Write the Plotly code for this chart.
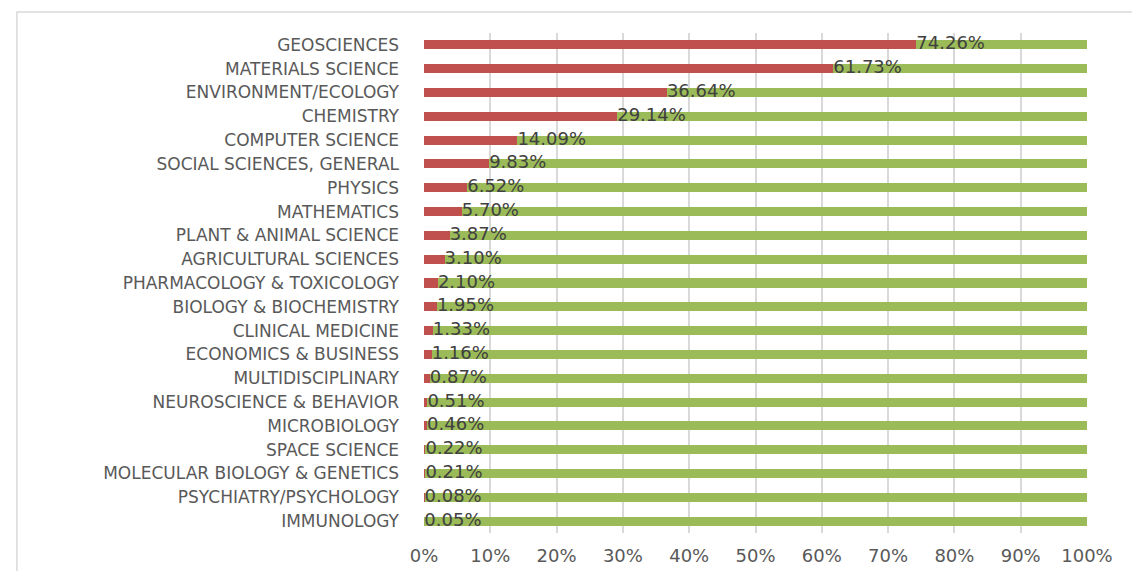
import plotly.graph_objects as go

categories = [
    "GEOSCIENCES", "MATERIALS SCIENCE", "ENVIRONMENT/ECOLOGY", "CHEMISTRY",
    "COMPUTER SCIENCE", "SOCIAL SCIENCES, GENERAL", "PHYSICS", "MATHEMATICS",
    "PLANT & ANIMAL SCIENCE", "AGRICULTURAL SCIENCES", "PHARMACOLOGY & TOXICOLOGY",
    "BIOLOGY & BIOCHEMISTRY", "CLINICAL MEDICINE", "ECONOMICS & BUSINESS",
    "MULTIDISCIPLINARY", "NEUROSCIENCE & BEHAVIOR", "MICROBIOLOGY", "SPACE SCIENCE",
    "MOLECULAR BIOLOGY & GENETICS", "PSYCHIATRY/PSYCHOLOGY", "IMMUNOLOGY",
]
share = [
    74.26, 61.73, 36.64, 29.14, 14.09, 9.83, 6.52, 5.70, 3.87, 3.10, 2.10,
    1.95, 1.33, 1.16, 0.87, 0.51, 0.46, 0.22, 0.21, 0.08, 0.05,
]
rest = [100 - v for v in share]
tick_vals = [0, 10, 20, 30, 40, 50, 60, 70, 80, 90, 100]
tick_text = [f"{v}%" for v in tick_vals]

font_family = "DejaVu Sans"
grey = "#595959"

fig = go.Figure()
fig.add_trace(go.Bar(
    y=categories, x=share, orientation="h", name="share",
    marker=dict(color="#C0504D", line=dict(width=0)), width=0.38,
))
fig.add_trace(go.Bar(
    y=categories, x=rest, orientation="h", name="rest",
    marker=dict(color="#9BBB59", line=dict(width=0)), width=0.38,
))
# data labels at the end of the red segment
fig.add_trace(go.Scatter(
    y=categories, x=share, mode="text",
    text=[f"{v:.2f}%" for v in share],
    textposition="middle right",
    textfont=dict(family=font_family, size=18, color="#404040"),
    hoverinfo="skip",
))

fig.update_layout(
    barmode="stack",
    width=1140, height=571,
    margin=dict(l=416, r=61, t=25, b=46),
    plot_bgcolor="white", paper_bgcolor="white",
    showlegend=False,
    font=dict(family=font_family, color=grey),
    shapes=[dict(
        type="rect", xref="paper", yref="paper",
        x0=-0.614, x1=1.2, y0=-0.2, y1=1.042,
        line=dict(color="#D9D9D9", width=1.5), layer="below",
    )],
)
fig.update_xaxes(
    range=[0, 100], tickvals=tick_vals, ticktext=tick_text,
    showgrid=True, gridcolor="#D9D9D9", gridwidth=1.5,
    zeroline=False, showline=False,
    tickfont=dict(family=font_family, size=18, color=grey),
    ticks="", ticklabelstandoff=10,
)
fig.update_yaxes(
    categoryorder="array", categoryarray=categories[::-1],
    range=[-0.5, len(categories) - 0.5],
    showgrid=False, zeroline=False, showline=False,
    tickfont=dict(family=font_family, size=17, color=grey),
    ticks="", ticklabelstandoff=24,
)

fig.write_html("out.html")
